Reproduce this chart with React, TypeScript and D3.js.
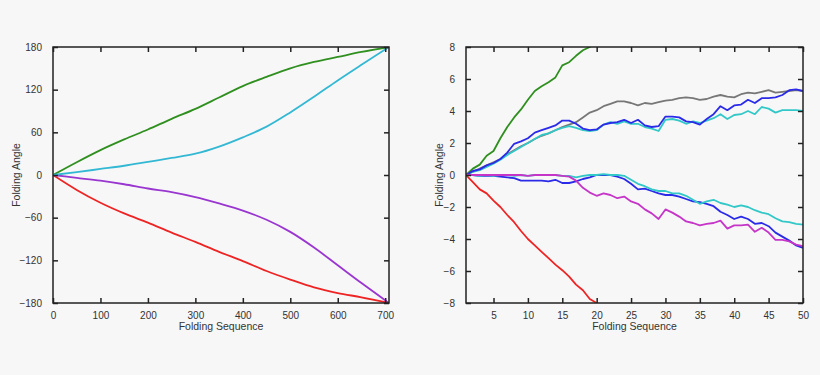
import React, { useEffect, useRef } from "react";
import * as d3 from "d3";

// Left panel: whole folding sequence
const seqLeft = [0, 50, 100, 150, 200, 250, 300, 350, 400, 450, 500, 550, 600, 650, 708];
const greenLeft = [0, 18, 35, 50, 64, 79, 93, 109, 125, 138, 150, 159, 166, 173, 180];
const cyanLeft = [0, 4, 8.5, 13, 18.5, 24, 30, 40, 53, 68, 88, 110, 133, 155, 180];
const purpleLeft = [0, -4, -8, -13, -19, -24, -31, -40, -50, -63, -80, -102, -127, -152, -180];
const redLeft = [0, -21, -39, -54, -67, -81, -94, -108, -121, -135, -147, -158, -166, -172, -180];
const ticksLeftX = [0, 100, 200, 300, 400, 500, 600, 700];
const ticksLeftY = [-180, -120, -60, 0, 60, 120, 180];

// Right panel: first 50 steps
const seqRight = d3.range(1, 51);
const greenRight = [0, 0.4, 0.65, 1.2, 1.5, 2.3, 3.0, 3.6, 4.1, 4.7, 5.25, 5.55, 5.8, 6.1, 6.85, 7.05, 7.45, 7.8, 8.0, 8.3];
const redRight = [0, -0.45, -0.9, -1.15, -1.6, -2.0, -2.5, -2.95, -3.5, -4.0, -4.4, -4.8, -5.2, -5.6, -5.95, -6.35, -6.85, -7.2, -7.75, -8.0];
const grayRight = [0, 0.2, 0.4, 0.6, 0.8, 1.0, 1.3, 1.55, 1.8, 2.0, 2.25, 2.45, 2.6, 2.8, 3.0, 3.15, 3.3, 3.6, 3.9, 4.05,
  4.3, 4.45, 4.6, 4.6, 4.5, 4.35, 4.5, 4.45, 4.55, 4.65, 4.7, 4.8, 4.85, 4.8, 4.7, 4.75, 4.9, 5.0, 4.9, 4.85,
  5.05, 5.15, 5.1, 5.2, 5.3, 5.15, 5.2, 5.25, 5.3, 5.25];
const blueUpRight = [0, 0.25, 0.35, 0.6, 0.75, 1.0, 1.4, 1.95, 2.1, 2.3, 2.65, 2.8, 2.95, 3.1, 3.4, 3.4, 3.2, 2.9, 2.8, 2.85,
  3.15, 3.25, 3.3, 3.45, 3.25, 3.45, 3.1, 3.0, 3.05, 3.65, 3.65, 3.6, 3.35, 3.3, 3.15, 3.5, 3.8, 4.3, 4.05, 4.35,
  4.4, 4.7, 4.5, 4.8, 4.8, 4.85, 5.0, 5.3, 5.35, 5.25];
const cyanUpRight = [0, 0.2, 0.3, 0.5, 0.7, 0.95, 1.25, 1.5, 1.75, 2.0, 2.25, 2.5, 2.6, 2.8, 2.95, 3.05, 2.95, 2.8, 2.75, 2.8,
  3.15, 3.3, 3.2, 3.35, 3.2, 3.2, 3.0, 2.9, 2.75, 3.45, 3.5, 3.4, 3.2, 3.35, 3.25, 3.4, 3.55, 3.8, 3.5, 3.75,
  3.8, 4.0, 3.8, 4.25, 4.15, 3.9, 4.05, 4.05, 4.05, 4.0];
const cyanLowRight = [0, 0, -0.05, 0, -0.05, 0, 0, -0.05, 0, -0.05, 0, 0, 0, 0, -0.05, -0.05, -0.15, -0.05, 0, 0,
  0.05, 0, 0, -0.05, -0.3, -0.55, -0.7, -0.9, -1.0, -1.0, -1.15, -1.15, -1.3, -1.55, -1.8, -1.65, -1.55, -1.75, -1.85, -2.0,
  -1.9, -2.0, -2.2, -2.35, -2.45, -2.7, -2.9, -2.95, -3.05, -3.1];
const blueLowRight = [0, 0, -0.05, -0.05, -0.05, -0.1, -0.15, -0.2, -0.35, -0.35, -0.35, -0.35, -0.4, -0.3, -0.5, -0.5, -0.4, -0.25, -0.15, 0,
  0, 0, -0.1, -0.25, -0.55, -0.9, -0.85, -1.0, -1.15, -1.25, -1.25, -1.35, -1.5, -1.65, -1.7, -1.8, -1.95, -2.3, -2.5, -2.75,
  -2.6, -2.75, -3.05, -3.0, -3.2, -3.6, -3.85, -4.1, -4.4, -4.55];
const magentaRight = [0, 0, 0, 0, 0, 0, 0, 0, 0, -0.05, 0, 0, 0, 0, -0.05, -0.1, -0.35, -0.8, -1.1, -1.3,
  -1.15, -1.25, -1.45, -1.35, -1.65, -1.8, -2.15, -2.4, -2.75, -2.15, -2.35, -2.6, -2.9, -3.0, -3.15, -3.05, -3.0, -2.85, -3.35, -3.15,
  -3.15, -3.1, -3.55, -3.3, -3.6, -4.05, -4.05, -4.15, -4.35, -4.45];
const ticksRightX = [5, 10, 15, 20, 25, 30, 35, 40, 45, 50];
const ticksRightY = [-8, -6, -4, -2, 0, 2, 4, 6, 8];

const FONT = "'Liberation Sans', Arial, sans-serif";

type Series = { values: number[]; color: string };

function drawPanel(
  g: d3.Selection<SVGGElement, unknown, null, undefined>,
  id: string,
  xs: number[],
  series: Series[],
  xDomain: [number, number],
  yDomain: [number, number],
  xTicks: number[],
  yTicks: number[],
  left: number,
  right: number,
  titleOffset: number,
  curve: d3.CurveFactory
) {
  const top = 47;
  const bottom = 303;
  const x = d3.scaleLinear().domain(xDomain).range([left, right]);
  const y = d3.scaleLinear().domain(yDomain).range([bottom, top]);

  g.append("clipPath")
    .attr("id", id)
    .append("rect")
    .attr("x", left)
    .attr("y", top)
    .attr("width", right - left)
    .attr("height", bottom - top);

  const line = d3
    .line<number>()
    .x((_, i) => x(xs[i]))
    .y((d) => y(d))
    .curve(curve);

  const lines = g.append("g").attr("clip-path", `url(#${id})`);
  series.forEach((s) => {
    lines
      .append("path")
      .attr("d", line(s.values))
      .attr("fill", "none")
      .attr("stroke", s.color)
      .attr("stroke-width", 1.8)
      .attr("stroke-linejoin", "round");
  });

  const tickLen = 5;
  const axes: [d3.Axis<d3.NumberValue>, string][] = [
    [d3.axisBottom(x).tickValues(xTicks).tickSize(-tickLen).tickPadding(9), `translate(0,${bottom})`],
    [d3.axisTop(x).tickValues(xTicks).tickSize(-tickLen).tickFormat(() => ""), `translate(0,${top})`],
    [d3.axisLeft(y).tickValues(yTicks).tickSize(-tickLen).tickPadding(11), `translate(${left},0)`],
    [d3.axisRight(y).tickValues(yTicks).tickSize(-tickLen).tickFormat(() => ""), `translate(${right},0)`],
  ];
  axes.forEach(([ax, tr]) => {
    const a = g.append("g").attr("transform", tr).call(ax);
    a.select(".domain").remove();
    a.selectAll("line").attr("stroke", "#222").attr("stroke-width", 1.5);
    a.selectAll("text").attr("fill", "#333").style("font-family", FONT).style("font-size", "10px");
  });

  g.append("rect")
    .attr("x", left)
    .attr("y", top)
    .attr("width", right - left)
    .attr("height", bottom - top)
    .attr("fill", "none")
    .attr("stroke", "#222")
    .attr("stroke-width", 1.5);

  g.append("text")
    .attr("x", (left + right) / 2)
    .attr("y", 330)
    .attr("text-anchor", "middle")
    .attr("fill", "#333")
    .style("font-family", FONT)
    .style("font-size", "10.5px")
    .text("Folding Sequence");

  g.append("text")
    .attr("transform", `translate(${left - titleOffset},${(top + bottom) / 2}) rotate(-90)`)
    .attr("text-anchor", "middle")
    .attr("dy", "0.35em")
    .attr("fill", "#333")
    .style("font-family", FONT)
    .style("font-size", "10.5px")
    .text("Folding Angle");
}

export default function App() {
  const ref = useRef<SVGSVGElement>(null);

  useEffect(() => {
    const svg = d3.select(ref.current);
    svg.selectAll("*").remove();

    drawPanel(
      svg.append("g"),
      "clipLeft",
      seqLeft,
      [
        { values: greenLeft, color: "#2f8f1f" },
        { values: redLeft, color: "#ee2424" },
        { values: purpleLeft, color: "#9a36d0" },
        { values: cyanLeft, color: "#33b8d4" },
      ],
      [0, 708],
      [-180, 180],
      ticksLeftX,
      ticksLeftY,
      53,
      389,
      37,
      d3.curveMonotoneX
    );

    drawPanel(
      svg.append("g"),
      "clipRight",
      seqRight,
      [
        { values: greenRight, color: "#2f8f1f" },
        { values: redRight, color: "#ee2424" },
        { values: grayRight, color: "#777777" },
        { values: cyanUpRight, color: "#33c8c8" },
        { values: blueUpRight, color: "#2a2ae8" },
        { values: blueLowRight, color: "#2a2ae8" },
        { values: cyanLowRight, color: "#33c8c8" },
        { values: magentaRight, color: "#c535c8" },
      ],
      [1, 50],
      [-8, 8],
      ticksRightX,
      ticksRightY,
      466,
      803,
      27,
      d3.curveLinear
    );
  }, []);

  return (
    <svg
      ref={ref}
      width={820}
      height={375}
      style={{ position: "absolute", left: 0, top: 0, background: "#f7f7f7" }}
    />
  );
}
